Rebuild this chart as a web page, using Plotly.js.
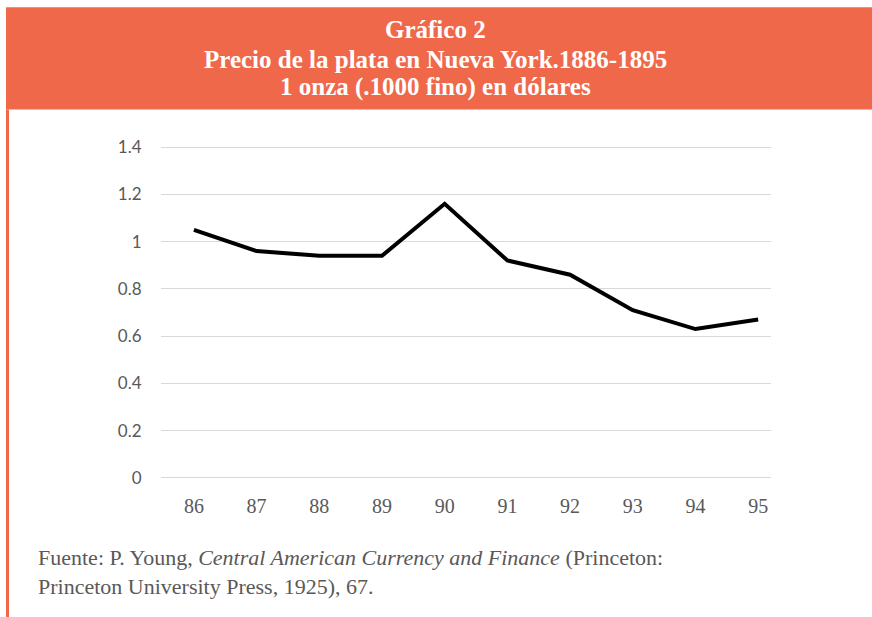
<!DOCTYPE html>
<html>
<head>
<meta charset="utf-8">
<script src="https://cdn.plot.ly/plotly-3.0.1.min.js"></script>
<style>html,body{margin:0;padding:0;background:#fff;}#chart{width:872px;height:617px;}</style>
</head>
<body>
<div id="chart"></div>
<script>
const years = ['86','87','88','89','90','91','92','93','94','95'];
const xIndex = [0,1,2,3,4,5,6,7,8,9];
const price = [1.05, 0.96, 0.94, 0.94, 1.16, 0.92, 0.86, 0.71, 0.63, 0.67];
const yTicks = [0, 0.2, 0.4, 0.6, 0.8, 1, 1.2, 1.4];
const yTickText = ['0','0.2','0.4','0.6','0.8','1','1.2','1.4'];
const titleLines = ['Gráfico 2','Precio de la plata en Nueva York.1886-1895','1 onza (.1000 fino) en dólares'];
const sourceLines = ['Fuente: P. Young, <i>Central American Currency and Finance</i> (Princeton:', 'Princeton University Press, 1925), 67.'];

const W = 872, H = 617;
// pixel positions of value 0 and 1.4
const y0px = 477.5, y14px = 147.5;
const pad = 0.03;
const perUnit = (y0px - y14px) / 1.4;
const T = y14px - pad * perUnit, B = y0px + pad * perUnit;
const L = 161, R = 771;
const px = x => (x - L) / (R - L);
const py = y => (B - y) / (B - T);
const orange = '#F0684A';
const serif = 'Liberation Serif';

const trace = {
  x: xIndex, y: price, type: 'scatter', mode: 'lines',
  line: {color: '#000000', width: 4},
  hoverinfo: 'skip'
};

const layout = {
  width: W, height: H,
  margin: {l: L, r: W - R, t: T, b: H - B, pad: 0},
  paper_bgcolor: '#ffffff', plot_bgcolor: '#ffffff',
  showlegend: false,
  xaxis: {
    range: [-0.525, 9.205],
    tickvals: xIndex, ticktext: years,
    showgrid: false, zeroline: false, showline: false,
    ticks: 'outside', ticklen: 3, tickcolor: 'rgba(0,0,0,0)',
    tickfont: {family: serif, size: 20, color: '#595959'}
  },
  yaxis: {
    range: [-pad, 1.4 + pad],
    tickvals: yTicks, ticktext: yTickText,
    showgrid: true, gridcolor: '#d9d9d9', gridwidth: 1,
    zeroline: false, showline: false,
    ticks: 'outside', ticklen: 15, tickcolor: 'rgba(0,0,0,0)',
    tickfont: {family: 'Lato', size: 17, color: '#595959'}
  },
  shapes: [
    {type: 'rect', xref: 'paper', yref: 'paper', x0: px(6), x1: px(872), y0: py(8), y1: py(110), fillcolor: orange, line: {width: 0}, layer: 'below'},
    {type: 'rect', xref: 'paper', yref: 'paper', x0: px(6), x1: px(9), y0: py(110), y1: py(617), fillcolor: orange, line: {width: 0}, layer: 'below'}
  ],
  annotations: [
    ...titleLines.map((t, i) => ({
      text: '<b>' + t + '</b>', xref: 'paper', yref: 'paper',
      x: px(435), y: py([30, 60, 88][i]), xanchor: 'center', yanchor: 'middle',
      showarrow: false,
      font: {family: serif, size: 25, color: '#ffffff'}
    })),
    ...sourceLines.map((t, i) => ({
      text: t, xref: 'paper', yref: 'paper',
      x: px(36), y: py([557, 586][i]), xanchor: 'left', yanchor: 'middle', align: 'left',
      showarrow: false,
      font: {family: serif, size: 22, color: '#595959'}
    }))
  ]
};

Plotly.newPlot('chart', [trace], layout, {staticPlot: true, displayModeBar: false});
</script>
</body>
</html>
